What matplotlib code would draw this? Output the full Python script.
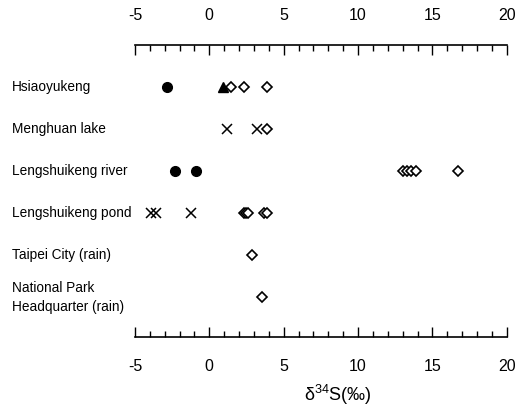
import matplotlib
matplotlib.use('Agg')
from matplotlib import pyplot as plt
from matplotlib.ticker import MultipleLocator

plt.rcParams['font.family'] = ['Liberation Sans', 'DejaVu Sans']
plt.rcParams['axes.unicode_minus'] = False
plt.rcParams['mathtext.default'] = 'regular'

sites = ['Hsiaoyukeng', 'Menghuan lake', 'Lengshuikeng river',
         'Lengshuikeng pond', 'Taipei City (rain)',
         'National Park\nHeadquarter (rain)']

# delta34S values per site and per marker type
circle_vals = [[-2.85], [], [-2.3, -0.9], [], [], []]
triangle_vals = [[0.9], [], [], [], [], []]
cross_vals = [[], [1.2, 3.2], [], [-3.9, -3.6, -1.2], [], []]
diamond_vals = [[1.45, 2.3, 3.9], [3.9], [13.05, 13.3, 13.55, 13.9, 16.75],
                [2.35, 2.5, 2.6, 3.65, 3.9], [2.9], [3.55]]

fig = plt.figure(figsize=(5.15, 4.09), dpi=100)
ax = fig.add_axes([0.262, 0.176, 0.722, 0.714])

for i in range(len(sites)):
    ax.plot(circle_vals[i], [i] * len(circle_vals[i]), 'o', color='black',
            markersize=7, linestyle='none')
    ax.plot(triangle_vals[i], [i] * len(triangle_vals[i]), '^', color='black',
            markersize=7, linestyle='none')
    ax.plot(cross_vals[i], [i] * len(cross_vals[i]), 'x', color='black',
            markersize=7, markeredgewidth=1.1, linestyle='none')
    ax.plot(diamond_vals[i], [i] * len(diamond_vals[i]), 'D', color='black',
            markerfacecolor='white', markersize=5, markeredgewidth=1.2,
            linestyle='none')
    ax.text(-0.33, i, sites[i], transform=ax.get_yaxis_transform(),
            ha='left', va='center', fontsize=9.8, linespacing=1.45)

ax.set_xlim(-5, 20)
ax.set_ylim(5.95, -1)
ax.set_yticks([])
for s in ['left', 'right']:
    ax.spines[s].set_visible(False)
ax.spines['top'].set_linewidth(1.2)
ax.spines['bottom'].set_linewidth(1.2)

ax.xaxis.set_major_locator(MultipleLocator(5))
ax.xaxis.set_minor_locator(MultipleLocator(1))
ax.tick_params(axis='x', which='both', direction='in', top=True, bottom=True,
               labeltop=True, labelbottom=True, labelsize=11.5)
ax.tick_params(axis='x', which='major', length=7, width=1, pad=16)
ax.tick_params(axis='x', which='minor', length=4, width=1)

fig.text(0.655, 0.035, r'$\delta^{34}$S(‰)', fontsize=13,
         ha='center', va='center')

plt.savefig('out.png', dpi=100)
